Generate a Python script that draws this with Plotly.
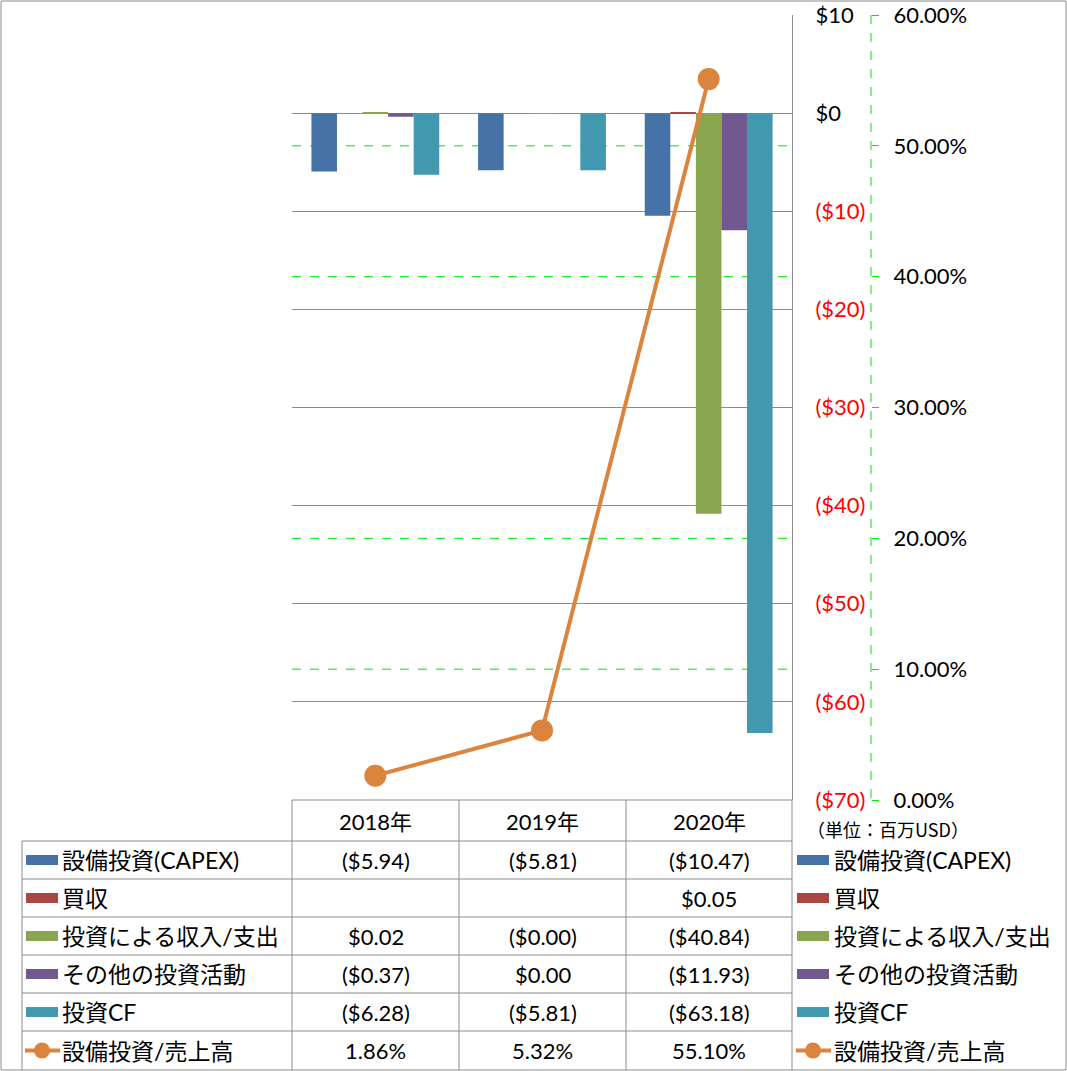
import plotly.graph_objects as go

# ---------------- data ----------------
years = ["2018年", "2019年", "2020年"]
capex = [-5.94, -5.81, -10.47]
acquisition = [None, None, 0.05]
invest_income = [0.02, -0.004, -40.84]
other_invest = [-0.37, 0.0, -11.93]
invest_cf = [-6.28, -5.81, -63.18]
capex_ratio = [0.0186, 0.0532, 0.5510]

series_names = ["設備投資(CAPEX)", "買収", "投資による収入/支出", "その他の投資活動", "投資CF"]
series_values = [capex, acquisition, invest_income, other_invest, invest_cf]
series_colors = ["#4672A8", "#AA4643", "#89A54E", "#71588F", "#4198AF"]
line_name = "設備投資/売上高"
line_color = "#DB843D"

left_ticks = [10, 0, -10, -20, -30, -40, -50, -60, -70]
right_ticks = [0, 0.1, 0.2, 0.3, 0.4, 0.5, 0.6]
unit_label = "（単位：百万USD）"

W, H = 1067, 1071
FONT = "Lato, 'Noto Sans CJK JP', sans-serif"
GRID = "#8C8C8C"
GREEN = "#00E600"


def px(x):
    return x / W


def py(y):
    return 1 - y / H


def fmt_usd(v):
    if v is None:
        return ""
    s = f"${abs(v):.2f}"
    return f"({s})" if v < 0 else s


def fmt_tick(v):
    if v < 0:
        return f'<span style="color:red">(${abs(v)})</span>'
    return f"${v}"


fig = go.Figure()
for name, vals, col in zip(series_names, series_values, series_colors):
    fig.add_trace(go.Bar(x=years, y=vals, name=name, marker_color=col,
                         marker_line_width=0, yaxis="y", xaxis="x"))
fig.add_trace(go.Scatter(x=years, y=capex_ratio, name=line_name, mode="lines+markers",
                         line=dict(color=line_color, width=4),
                         marker=dict(size=22, color=line_color),
                         yaxis="y2", xaxis="x"))

plot_l, plot_r, plot_t, plot_b = 292, 792, 15, 800

fig.update_layout(
    template="none",
    width=W, height=H, autosize=False,
    margin=dict(l=0, r=0, t=0, b=0, pad=0),
    paper_bgcolor="white", plot_bgcolor="white",
    showlegend=False,
    barmode="group", bargap=0.233, bargroupgap=0,
    font=dict(family=FONT, size=22, color="black"),
    xaxis=dict(domain=[px(plot_l), px(plot_r)], range=[-0.5, 2.5], automargin=False,
               showticklabels=False, showgrid=False, zeroline=False, showline=False,
               ticks=""),
    yaxis=dict(domain=[py(plot_b), py(plot_t)], range=[-70, 10], side="right",
               automargin=False,
               tickvals=left_ticks, ticktext=[fmt_tick(v) for v in left_ticks],
               showgrid=True, gridcolor=GRID, gridwidth=1,
               zeroline=True, zerolinecolor=GRID, zerolinewidth=1,
               showline=True, linecolor=GRID, linewidth=1, ticks="",
               ticklabelstandoff=18, tickfont=dict(size=22)),
    yaxis2=dict(overlaying="y", anchor="free", position=px(871), side="right",
                automargin=False,
                range=[0, 0.6], tickvals=right_ticks, tickformat=".2%",
                showgrid=False, zeroline=False, showline=False,
                ticks="outside", ticklen=7, tickcolor=GREEN, tickwidth=1,
                ticklabelstandoff=10, tickfont=dict(size=22)),
)

shapes = []
annotations = []


def hline(x0, x1, y, color=GRID, width=1, dash=None, layer="above"):
    shapes.append(dict(type="line", xref="paper", yref="paper", x0=px(x0), x1=px(x1),
                       y0=py(y), y1=py(y), line=dict(color=color, width=width, dash=dash),
                       layer=layer))


def vline(x, y0, y1, color=GRID, width=1, dash=None):
    shapes.append(dict(type="line", xref="paper", yref="paper", x0=px(x), x1=px(x),
                       y0=py(y0), y1=py(y1), line=dict(color=color, width=width, dash=dash),
                       layer="above"))


# green dashed gridlines of the percentage axis (drawn behind bars)
for t in right_ticks[1:-1]:
    shapes.append(dict(type="line", xref="paper", yref="y2", x0=px(plot_l), x1=px(plot_r),
                       y0=t, y1=t, line=dict(color=GREEN, width=1, dash="dash"),
                       layer="between"))

# green dashed secondary axis line
vline(871, 15, 800, color=GREEN, dash="dash")

# table grid
col_edges = [292, 459, 626, 792]
col_centers = [(col_edges[i] + col_edges[i + 1]) / 2 for i in range(3)]
row_edges = [800, 841, 879, 917, 955, 993, 1031, 1070]
hline(292, 792, 800)
for y in row_edges[1:-1]:
    hline(22, 792, y)
for x in col_edges:
    vline(x, 800, 1070)
vline(22, 841, 1070)

# outer chart border
shapes.append(dict(type="rect", xref="paper", yref="paper", x0=px(1), x1=px(1066),
                   y0=py(1), y1=py(1070), line=dict(color=GRID, width=1), layer="above"))

# header
for yr, cx in zip(years, col_centers):
    annotations.append(dict(x=px(cx), y=py(821), xref="paper", yref="paper", text=yr,
                            showarrow=False, xanchor="center", yanchor="middle",
                            font=dict(size=22)))

annotations.append(dict(x=px(805), y=py(829), xref="paper", yref="paper", text=unit_label,
                        showarrow=False, xanchor="left", yanchor="middle",
                        font=dict(size=18, family="'Noto Sans CJK JP', sans-serif")))

all_names = series_names + [line_name]
row_centers = [(row_edges[i] + row_edges[i + 1]) / 2 for i in range(1, 7)]
for i, name in enumerate(all_names):
    cy = row_centers[i]
    for kx0, tx in ((26, 60), (797, 832)):
        if i < 5:
            shapes.append(dict(type="rect", xref="paper", yref="paper",
                               x0=px(kx0), x1=px(kx0 + 32), y0=py(cy + 5), y1=py(cy - 5),
                               fillcolor=series_colors[i], line=dict(width=0), layer="above"))
        else:
            shapes.append(dict(type="line", xref="paper", yref="paper",
                               x0=px(kx0 - 1), x1=px(kx0 + 34), y0=py(cy), y1=py(cy),
                               line=dict(color=line_color, width=4), layer="above"))
            shapes.append(dict(type="circle", xref="paper", yref="paper",
                               x0=px(kx0 + 16 - 8), x1=px(kx0 + 16 + 8),
                               y0=py(cy + 8), y1=py(cy - 8),
                               fillcolor=line_color, line=dict(width=0), layer="above"))
        annotations.append(dict(x=px(tx), y=py(cy), xref="paper", yref="paper", text=name,
                                showarrow=False, xanchor="left", yanchor="middle",
                                font=dict(size=23)))
    for j, cx in enumerate(col_centers):
        if i < 5:
            txt = fmt_usd(series_values[i][j])
        else:
            txt = f"{capex_ratio[j] * 100:.2f}%"
        if txt:
            annotations.append(dict(x=px(cx), y=py(cy), xref="paper", yref="paper", text=txt,
                                    showarrow=False, xanchor="center", yanchor="middle",
                                    font=dict(size=22)))

fig.update_layout(shapes=shapes, annotations=annotations)
fig.write_html("out.html", config={"displayModeBar": False},
               post_script="document.body.style.margin='0';document.body.style.overflow='hidden';")
